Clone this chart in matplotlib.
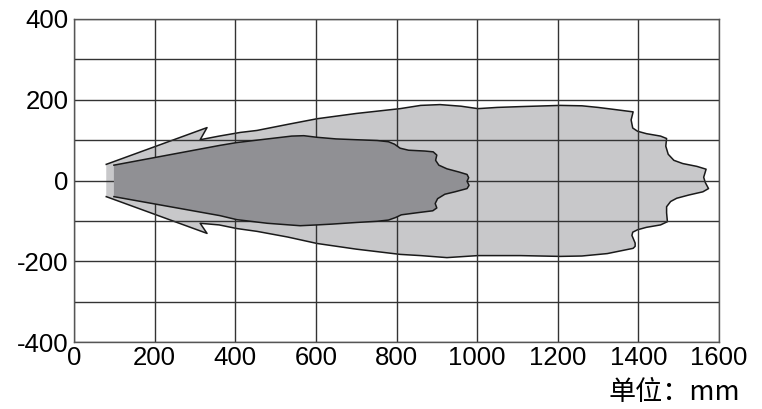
import matplotlib
matplotlib.use('Agg')
import matplotlib.pyplot as plt

# outer (light) zone outline, top-left -> round the tip -> bottom-left
outer_x = [80, 330, 313, 360, 412, 454, 530, 603, 700, 809, 860, 908, 960, 1002,
           1050, 1107, 1206, 1260, 1300, 1340, 1387, 1382, 1386, 1398, 1420, 1455,
           1470, 1468, 1474, 1488, 1510, 1545, 1568, 1565, 1562, 1566, 1574, 1560,
           1525, 1495, 1480, 1470, 1470, 1472, 1455, 1420, 1398, 1386, 1384, 1392,
           1392, 1387, 1323, 1260, 1206, 1107, 1002, 925, 860, 809, 700, 603,
           530, 454, 404, 360, 313, 330, 80]
outer_y = [40, 131, 101, 110, 119, 124, 139, 153, 166, 178, 186, 188, 184, 178,
           181, 183, 186, 185, 181, 176, 170, 150, 130, 122, 116, 110,
           104, 85, 65, 50, 42, 35, 28, 18, 8, -5, -20, -28,
           -36, -44, -52, -65, -80, -102, -110, -116, -122, -128, -136, -155,
           -163, -168, -181, -187, -188, -186, -186, -191, -186, -183, -170, -156,
           -140, -126, -119, -110, -106, -131, -40]

# inner (dark) zone outline
inner_x = [99, 362, 404, 480, 540, 570, 603, 650, 700, 752, 780, 795, 809, 830,
           870, 891, 900, 897, 905, 925, 955, 975, 979, 975, 980, 975, 945, 920,
           902, 896, 900, 890, 850, 812, 797, 780, 752, 700, 640, 603, 561, 480,
           404, 362, 99]
inner_y = [38, 87, 94, 103, 110, 111, 107, 103, 101, 99, 96, 90, 80, 75,
           73, 71, 63, 50, 38, 29, 21, 15, 7, -2, -12, -20, -28, -34,
           -45, -57, -68, -75, -80, -85, -92, -98, -101, -104, -108, -110, -112, -106,
           -97, -87, -40]

xticks = [0, 200, 400, 600, 800, 1000, 1200, 1400, 1600]
yticks = [-400, -200, 0, 200, 400]

plt.rcParams['font.family'] = ['Liberation Sans', 'DejaVu Sans']

fig = plt.figure(figsize=(7.62, 4.09), dpi=100)
ax = fig.add_axes([74 / 762, 1 - 342 / 409, 645 / 762, 323 / 409])

ax.fill(outer_x, outer_y, color='#c8c8ca', lw=0, zorder=1)
ax.plot(outer_x, outer_y, color='#1a1a1a', lw=1.1, zorder=2)
ax.fill(inner_x, inner_y, color='#909094', lw=0, zorder=3)
ax.plot(inner_x, inner_y, color='#1a1a1a', lw=1.1, zorder=4)

ax.set_xlim(0, 1600)
ax.set_ylim(-400, 400)
ax.set_xticks(xticks)
ax.set_xticklabels([str(v) for v in xticks])
ax.set_yticks(yticks)
ax.set_yticklabels([str(v) for v in yticks])
ax.set_yticks(range(-300, 301, 200), minor=True)

ax.grid(True, which='both', color='#333333', lw=1.0, zorder=5)
ax.set_axisbelow(False)
for sp in ax.spines.values():
    sp.set_color('#555555')
    sp.set_linewidth(1.0)
    sp.set_zorder(6)

ax.tick_params(which='both', length=0, labelsize=18.5, colors='black')
ax.tick_params(axis='x', pad=3)
ax.tick_params(axis='y', pad=4)

fig.text(740 / 762, 1 - 393 / 409, '单位：mm', ha='right', va='center',
         fontsize=19.5, family=['Noto Sans CJK SC', 'DejaVu Sans'])

fig.savefig('out.png', dpi=100)
